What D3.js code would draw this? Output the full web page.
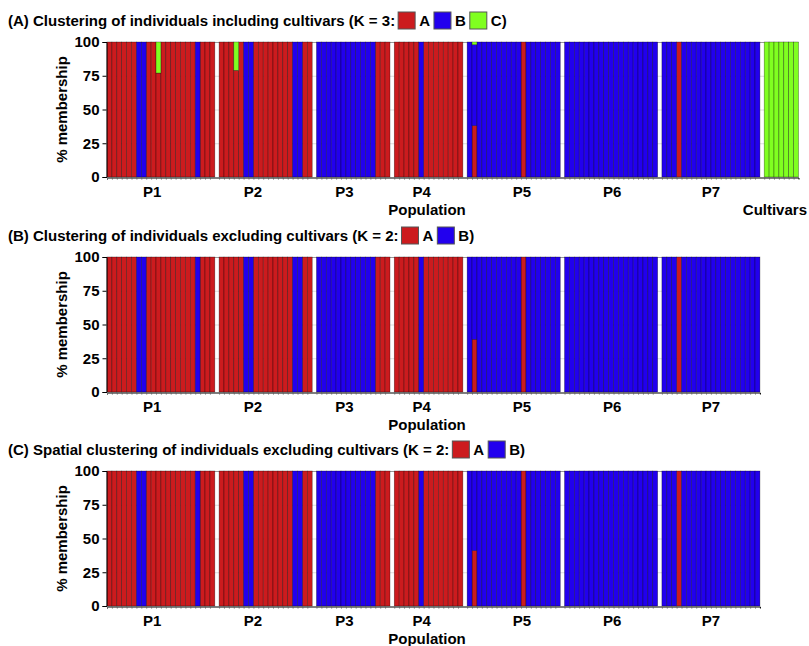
<!DOCTYPE html>
<html>
<head>
<meta charset="utf-8">
<script src="https://cdn.jsdelivr.net/npm/d3@7"></script>
<style>
  body { margin: 0; background: #fff; }
  text { font-family: Arial, "Liberation Sans", sans-serif; font-weight: bold; fill: #000; }
</style>
</head>
<body>
<div id="chart"></div>
<script>
// DATA
var groups = ["P1", "P2", "P3", "P4", "P5", "P6", "P7", "Cultivars"];
var yTicks = [0, 25, 50, 75, 100];
var clusterKeys = ["A", "B", "C"];
var clusterColors = ["#cc1b1e", "#2200ee", "#80ff20"];

// % membership in cluster A (red), one array per population
var panelA_red = [
    [100,100,100,100,100,100,0,0,100,100,77,100,100,100,100,100,100,100,0,100,100,100],
    [100,100,100,79,100,0,0,100,100,100,100,100,100,100,100,0,0,100,100],
    [0,0,0,0,0,0,0,0,0,0,0,0,100,100,100],
    [100,100,100,100,100,0,100,100,100,100,100,100,100,100],
    [0,38,0,0,0,0,0,0,0,0,0,100,0,0,0,0,0,0,0],
    [0,0,0,0,0,0,0,0,0,0,0,0,0,0,0,0,0,0,0],
    [0,0,0,100,0,0,0,0,0,0,0,0,0,0,0,0,0,0,0,0],
    [0,0,0,0,0,0,0]
];
// % membership in cluster C (green), panel A only
var panelA_green = [
    [0,0,0,0,0,0,0,0,0,0,23,0,0,0,0,0,0,0,0,0,0,0],
    [0,0,0,21,0,0,0,0,0,0,0,0,0,0,0,0,0,0,0],
    [0,0,0,0,0,0,0,0,0,0,0,0,0,0,0],
    [0,0,0,0,0,0,0,0,0,0,0,0,0,0],
    [0,2,0,0,0,0,0,0,0,0,0,0,0,0,0,0,0,0,0],
    [0,0,0,0,0,0,0,0,0,0,0,0,0,0,0,0,0,0,0],
    [0,0,0,0,0,0,0,0,0,0,0,0,0,0,0,0,0,0,0,0],
    [100,100,100,100,100,100,100]
];
var panelB_red = [
    [100,100,100,100,100,100,0,0,100,100,100,100,100,100,100,100,100,100,0,100,100,100],
    [100,100,100,100,100,0,0,100,100,100,100,100,100,100,100,0,0,100,100],
    [0,0,0,0,0,0,0,0,0,0,0,0,100,100,100],
    [100,100,100,100,100,0,100,100,100,100,100,100,100,100],
    [0,39,0,0,0,0,0,0,0,0,0,100,0,0,0,0,0,0,0],
    [0,0,0,0,0,0,0,0,0,0,0,0,0,0,0,0,0,0,0],
    [0,0,0,100,0,0,0,0,0,0,0,0,0,0,0,0,0,0,0,0]
];
var panelC_red = [
    [100,100,100,100,100,100,0,0,100,100,100,100,100,100,100,100,100,100,0,100,100,100],
    [100,100,100,100,100,0,0,100,100,100,100,100,100,100,100,0,0,100,100],
    [0,0,0,0,0,0,0,0,0,0,0,0,100,100,100],
    [100,100,100,100,100,0,100,100,100,100,100,100,100,100],
    [0,41,0,0,0,0,0,0,0,0,0,100,0,0,0,0,0,0,0],
    [0,0,0,0,0,0,0,0,0,0,0,0,0,0,0,0,0,0,0],
    [0,0,0,100,0,0,0,0,0,0,0,0,0,0,0,0,0,0,0,0]
];
var titles = [
    "(A) Clustering of individuals including cultivars (K = 3:",
    "(B) Clustering of individuals excluding cultivars (K = 2:",
    "(C) Spatial clustering of individuals excluding cultivars (K = 2:"
];

// LAYOUT
var width = 809, height = 646;
var gapUnits = 0.87;          // white gap between populations, in bar widths
var labelAt = [9.2, 6.9, 5.7, 5.6, 11.2, 9.7, 10, 3.5];   // label position inside each group (bars)
var plotLeft = 107, plotRight = 798.5, plotH = 135;
var fontSize = 15;

var svg = d3.select("#chart").append("svg")
    .attr("width", width)
    .attr("height", height);

function buildRows(red, green) {
    var rows = [], spans = [], u = 0;
    red.forEach(function (arr, gi) {
        if (gi > 0) u += gapUnits;
        var start = u;
        arr.forEach(function (a, i) {
            var c = green ? green[gi][i] : 0;
            rows.push({g: gi, u: u, A: a, B: 100 - a - c, C: c});
            u += 1;
        });
        spans.push({start: start, end: u});
    });
    return {rows: rows, spans: spans, total: u};
}

// shared x scale (set from panel A so bars line up in all panels)
var full = buildRows(panelA_red, panelA_green);
var x = d3.scaleLinear().domain([0, full.total]).range([plotLeft, plotRight]);

function drawPanel(top, red, green, title, nKeys) {
    var built = buildRows(red, green);
    var rows = built.rows;
    var xEnd = x(built.total);
    var y = d3.scaleLinear().domain([0, 100]).range([top + plotH, top]);
    var g = svg.append("g");

    // gridlines, visible only in the gaps
    g.selectAll(".grid")
        .data(yTicks.filter(function (d) { return d > 0; }))
        .enter().append("line")
        .attr("x1", plotLeft).attr("x2", xEnd)
        .attr("y1", function (d) { return y(d) + 0.5; })
        .attr("y2", function (d) { return y(d) + 0.5; })
        .attr("stroke", function (d) { return d == 100 ? "#999" : "#ddd"; })
        .attr("stroke-width", 1);

    var stacked = d3.stack().keys(clusterKeys)(rows);
    var bw = x(1) - x(0);

    g.selectAll(".layer")
        .data(stacked)
        .enter().append("g")
        .attr("fill", function (d, i) { return clusterColors[i]; })
        .selectAll("rect")
        .data(function (d) { return d.filter(function (s) { return s[1] - s[0] > 0; }); })
        .enter().append("rect")
        .attr("x", function (d) { return x(d.data.u); })
        .attr("width", bw)
        .attr("y", function (d) { return y(d[1]); })
        .attr("height", function (d) { return y(d[0]) - y(d[1]); })
        .attr("stroke", "#000")
        .attr("stroke-opacity", 0.5)
        .attr("stroke-width", 0.6);

    // axes
    var yaxis = g.append("g")
        .attr("transform", "translate(" + (plotLeft - 0.5) + ",0)")
        .call(d3.axisLeft(y).tickValues(yTicks).tickSize(4).tickPadding(3));
    yaxis.selectAll("text").style("font-size", fontSize + "px").style("font-family", "Arial, 'Liberation Sans', sans-serif").style("font-weight", "bold");

    var xs = d3.scaleLinear().domain([0, built.total]).range([plotLeft, xEnd]);
    var xaxis = g.append("g")
        .attr("transform", "translate(0," + (top + plotH + 0.5) + ")")
        .call(d3.axisBottom(xs).tickValues(rows.map(function (d) { return d.u; })).tickSize(2).tickFormat(""));
    xaxis.selectAll(".tick line").attr("stroke", "#666");
    xaxis.select(".domain").attr("stroke", "#000");

    // population labels (Cultivars goes on the lower line, kept inside the page)
    g.selectAll(".plab")
        .data(built.spans)
        .enter().append("text")
        .attr("x", function (d, i) { return groups[i] == "Cultivars" ? width - 2 : x(d.start + labelAt[i]); })
        .attr("y", function (d, i) { return top + plotH + (groups[i] == "Cultivars" ? 38 : 20); })
        .attr("text-anchor", function (d, i) { return groups[i] == "Cultivars" ? "end" : "middle"; })
        .style("font-size", fontSize + "px")
        .text(function (d, i) { return groups[i]; });

    g.append("text")
        .attr("x", 427)
        .attr("y", top + plotH + 38)
        .attr("text-anchor", "middle")
        .style("font-size", fontSize + "px")
        .text("Population");

    g.append("text")
        .attr("transform", "translate(67," + (top + plotH / 2) + ") rotate(-90)")
        .attr("text-anchor", "middle")
        .style("font-size", fontSize + "px")
        .text("% membership");

    // title with inline legend
    var ty = top - 16;
    var t = g.append("text")
        .attr("x", 8)
        .attr("y", ty)
        .style("font-size", fontSize + "px")
        .text(title);
    var cx = 8 + t.node().getComputedTextLength() + 3;
    for (var k = 0; k < nKeys; k++) {
        g.append("rect")
            .attr("x", cx).attr("y", ty - 14)
            .attr("width", 17).attr("height", 17)
            .attr("fill", clusterColors[k])
            .attr("stroke", "#555").attr("stroke-width", 1);
        cx += 21;
        var lt = g.append("text")
            .attr("x", cx).attr("y", ty)
            .style("font-size", fontSize + "px")
            .text(clusterKeys[k] + (k == nKeys - 1 ? ")" : ""));
        cx += lt.node().getComputedTextLength() + 4;
    }
}

drawPanel(42, panelA_red, panelA_green, titles[0], 3);
drawPanel(257, panelB_red, null, titles[1], 2);
drawPanel(471, panelC_red, null, titles[2], 2);
</script>
</body>
</html>
